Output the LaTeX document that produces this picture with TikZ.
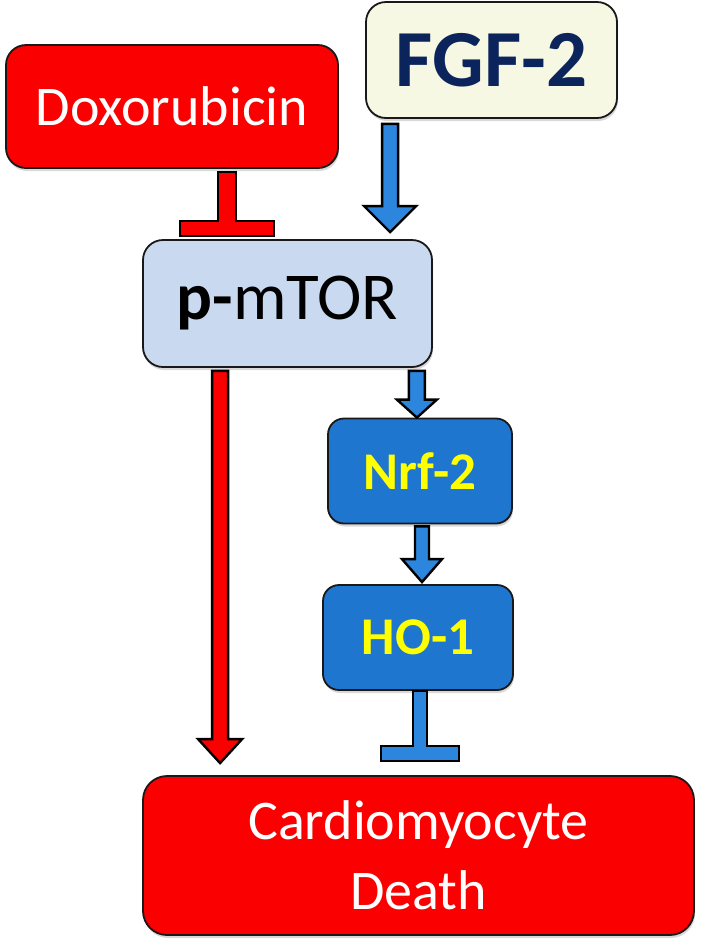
\documentclass[tikz,border=0pt]{standalone}
\usepackage{fontspec}
\setmainfont{Carlito}
\usetikzlibrary{calc, shadows}
\definecolor{boxred}{RGB}{250,0,0}
\definecolor{fgfcream}{RGB}{247,248,228}
\definecolor{fgfnavy}{RGB}{12,36,92}
\definecolor{mtorblue}{RGB}{201,218,240}
\definecolor{nrfblue}{RGB}{30,118,206}
\definecolor{arrowblue}{RGB}{44,134,222}
\definecolor{textyellow}{RGB}{255,255,0}
\tikzset{
    fatshaft/.store in=\fatshaft, fatshaft=8pt,
    fathead/.store in=\fathead, fathead=22pt,
    fatlen/.store in=\fatlen, fatlen=24pt,
    pathbox/.style={
        rectangle, rounded corners=20pt, draw=black!90, line width=1.8pt,
        inner sep=0pt, align=center,
        drop shadow={opacity=0.3, shadow xshift=1pt, shadow yshift=-3pt}
    },
    redbox/.style={
        pathbox, fill=boxred, text=white,
        font=\fontsize{56}{70}\selectfont
    },
    fgfbox/.style={
        pathbox, fill=fgfcream, text=fgfnavy,
        font=\fontsize{81}{90}\selectfont\bfseries
    },
    mtorbox/.style={
        pathbox, fill=mtorblue, text=black,
        font=\fontsize{67}{72}\selectfont
    },
    nrfbox/.style={
        pathbox, rounded corners=16pt, fill=nrfblue, text=textyellow,
        font=\fontsize{53}{60}\selectfont\bfseries
    },
    fatarrow/.style={
        draw=black, line width=2.4pt, line join=miter, fill=#1,
        to path={let \p1=(\tikztostart), \p2=(\tikztotarget) in
            (\x1-\fatshaft,\y1) -- (\x1+\fatshaft,\y1)
            -- (\x1+\fatshaft,\y2+\fatlen) -- (\x1+\fathead,\y2+\fatlen)
            -- (\x1,\y2) -- (\x1-\fathead,\y2+\fatlen)
            -- (\x1-\fatshaft,\y2+\fatlen) -- cycle}
    },
    blunt/.style={
        draw=black, line width=2.4pt, line join=miter, fill=#1,
        to path={let \p1=(\tikztostart), \p2=(\tikztotarget) in
            (\x1-\fatshaft,\y1) -- (\x1+\fatshaft,\y1)
            -- (\x1+\fatshaft,\y2+\fatlen) -- (\x1+\fathead,\y2+\fatlen)
            -- (\x1+\fathead,\y2) -- (\x1-\fathead,\y2)
            -- (\x1-\fathead,\y2+\fatlen) -- (\x1-\fatshaft,\y2+\fatlen) -- cycle}
    }
}

\begin{document}
\begin{tikzpicture}[x=1pt, y=-1pt]
\useasboundingbox (0,0) rectangle (701,946);

% Top row: stimuli
\node[redbox, minimum width=332pt, minimum height=123pt] (dox) at (172,106.5) {Doxorubicin};
\node[fgfbox, minimum width=251pt, minimum height=116pt] (fgf) at (491.5,60) {FGF-2};

% Middle: p-mTOR and the Nrf-2 / HO-1 branch
\node[mtorbox, minimum width=289pt, minimum height=127pt] (pmtor) at (287.5,303.5) {\textbf{p-}mTOR};
\node[nrfbox, minimum width=184pt, minimum height=105pt] (nrf) at (420,471) {Nrf-2};
\node[nrfbox, minimum width=190pt, minimum height=105pt] (ho) at (418,637.5) {HO-1};

% Bottom: outcome
\node[redbox, rounded corners=24pt, minimum width=551pt, minimum height=159pt] (death) at (418.5,855.5) {Cardiomyocyte\\Death};

% Activation arrows
\draw[fatarrow=arrowblue, fatshaft=8pt, fathead=26pt, fatlen=26pt]
    ([xshift=25pt,yshift=-5pt]fgf.south west) to ([yshift=7pt]pmtor.north);
\draw[fatarrow=arrowblue, fatshaft=8pt, fathead=20pt, fatlen=18pt]
    ([xshift=-16pt,yshift=-3pt]pmtor.south east) to (nrf.north);
\draw[fatarrow=arrowblue, fatshaft=7pt, fathead=20pt, fatlen=23pt]
    ([xshift=2pt,yshift=-2pt]nrf.south) to ([yshift=2pt]ho.north);
\draw[fatarrow=boxred, fatshaft=8pt, fathead=22pt, fatlen=24pt]
    ([xshift=78pt,yshift=-3pt]pmtor.south west) to ([yshift=12pt]death.north);

% Inhibition bars
\draw[blunt=boxred, fatshaft=9pt, fathead=47pt, fatlen=15pt]
    ([xshift=55pt,yshift=-3pt]dox.south) to ([yshift=3pt]pmtor.north);
\draw[blunt=arrowblue, fatshaft=7pt, fathead=39pt, fatlen=15pt]
    ([xshift=2pt]ho.south) to ([yshift=14pt]death.north);

\end{tikzpicture}
\end{document}
